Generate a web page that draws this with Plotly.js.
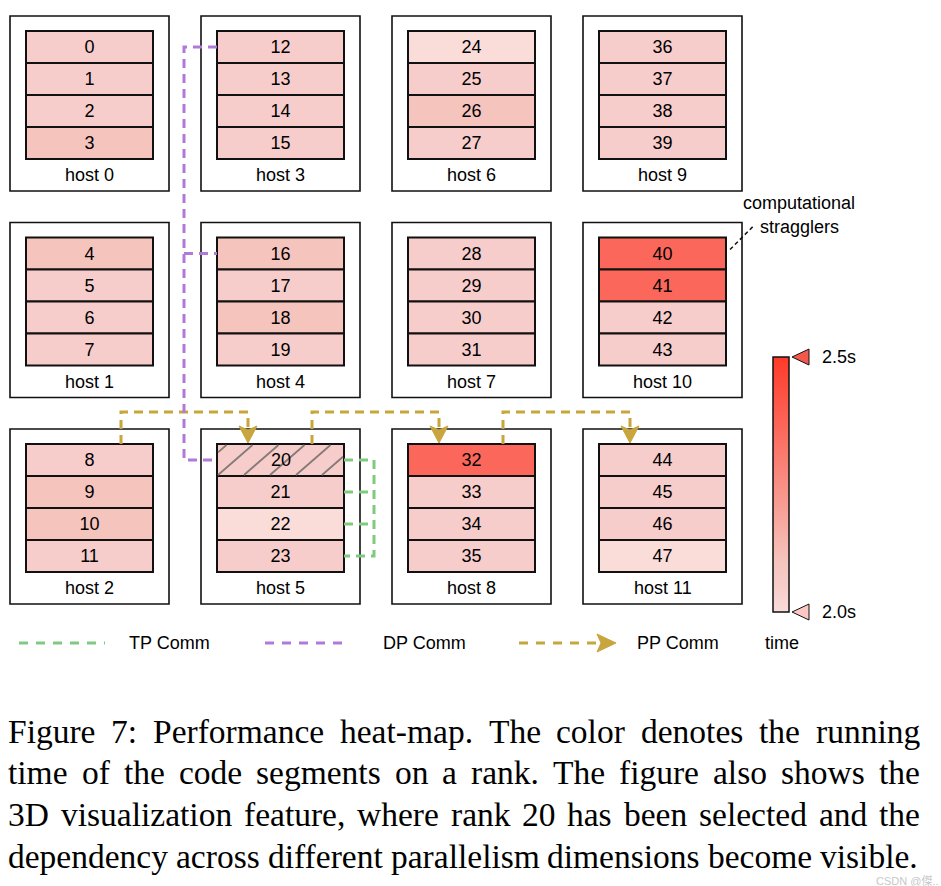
<!DOCTYPE html>
<html>
<head>
<meta charset="utf-8">
<script src="https://cdn.plot.ly/plotly-3.0.1.min.js"></script>
<style>html,body{margin:0;padding:0;background:#fff;}#chart{width:941px;height:886px;}</style>
</head>
<body>
<div id="chart"></div>
<script>
// ---------------- data ----------------
const ranks = [0,1,2,3,4,5,6,7,8,9,10,11,12,13,14,15,16,17,18,19,20,21,22,23,
               24,25,26,27,28,29,30,31,32,33,34,35,36,37,38,39,40,41,42,43,44,45,46,47];
const times = [2.05,2.05,2.05,2.10, 2.10,2.05,2.05,2.05, 2.05,2.10,2.10,2.05,
               2.05,2.05,2.05,2.05, 2.10,2.05,2.10,2.05, 2.05,2.05,2.00,2.05,
               2.00,2.05,2.10,2.05, 2.05,2.05,2.05,2.05, 2.36,2.05,2.05,2.05,
               2.05,2.05,2.05,2.05, 2.36,2.36,2.05,2.05, 2.05,2.05,2.05,2.00];
const hostLabels = ['host 0','host 1','host 2','host 3','host 4','host 5',
                    'host 6','host 7','host 8','host 9','host 10','host 11'];
const selectedRank = 20;
const tpGroup = [20,21,22,23];
const dpGroup = [12,16,20];
const ppChain = [8,20,32,44];
const stragglerText = ['computational','stragglers'];
const timeRange = [2.0, 2.5];
const timeTickLabels = ['2.0s','2.5s'];
const legendLabels = ['TP Comm','DP Comm','PP Comm','time'];
const captionLines = [
  'Figure 7: Performance heat-map. The color denotes the running',
  'time of the code segments on a rank. The figure also shows the',
  '3D visualization feature, where rank 20 has been selected and the',
  'dependency across different parallelism dimensions become visible.'
];
const watermark = 'CSDN @傑..';

// ---------------- layout geometry ----------------
const W = 941, H = 886;
const COL_X0 = 10, COL_STEP = 191, ROW_Y0 = 16, ROW_STEP = 206.5;
const BOX_W = 159, BOX_H = 175;
const CELL_DX = 16, CELL_DY = 15, CELL_W = 127, CELL_H = 32;
const RANKS_PER_HOST = 4, HOSTS_PER_COL = 3;
const FONT = 'Liberation Sans, Arial, sans-serif';
const SERIF = 'Liberation Serif';
const CAP_SIZE = 33.5;
const GREEN = '#80c97e', PURPLE = '#b27ad8', GOLD = '#c9a53e';

function hostOf(r){ return Math.floor(r / RANKS_PER_HOST); }
function boxLeft(h){ return COL_X0 + Math.floor(h / HOSTS_PER_COL) * COL_STEP; }
function boxTop(h){ return ROW_Y0 + (h % HOSTS_PER_COL) * ROW_STEP; }
function cellLeft(r){ return boxLeft(hostOf(r)) + CELL_DX; }
function cellTop(r){ return boxTop(hostOf(r)) + CELL_DY + (r % RANKS_PER_HOST) * CELL_H; }
function cellMidY(r){ return cellTop(r) + CELL_H / 2; }
function cellRight(r){ return cellLeft(r) + CELL_W; }

const colorscale = [[0,'#fadcd9'],[0.1,'#f6cdcb'],[0.2,'#f5c4bd'],[0.72,'#fb685b'],[1,'#ff3b2a']];

const traces = [];
const shapes = [];
const annotations = [];

// host boxes + labels
hostLabels.forEach((lab, h) => {
  shapes.push({type:'rect', xref:'x', yref:'y', layer:'below',
    x0: boxLeft(h), x1: boxLeft(h) + BOX_W, y0: boxTop(h), y1: boxTop(h) + BOX_H,
    line:{color:'#111', width:1.6}, fillcolor:'#fff'});
  annotations.push({xref:'x', yref:'y', x: boxLeft(h) + BOX_W/2, y: boxTop(h) + 159,
    text: lab, showarrow:false, font:{family:FONT, size:18, color:'#000'},
    xanchor:'center', yanchor:'middle'});
});

function dashed(xs, ys, color, dash, width){
  return {type:'scatter', mode:'lines', x: xs, y: ys, hoverinfo:'skip', showlegend:false,
    line:{color: color, width: width || 3, dash: dash || '9px,6px'}};
}
function arrowHead(xTip, yTip, dir, color, len, half){
  const notch = 4;
  let xs, ys;
  if (dir === 'down') {
    xs = [xTip - half, xTip, xTip + half, xTip, xTip - half];
    ys = [yTip - len, yTip - len + notch, yTip - len, yTip, yTip - len];
  } else {
    xs = [xTip - len, xTip - len + notch, xTip - len, xTip, xTip - len];
    ys = [yTip - half, yTip, yTip + half, yTip, yTip - half];
  }
  return {type:'scatter', mode:'lines', x: xs, y: ys, fill:'toself', fillcolor: color,
    line:{color: color, width:1}, hoverinfo:'skip', showlegend:false};
}

// heat-map cells
traces.push({
  type:'bar', orientation:'h',
  y: ranks.map(cellMidY),
  base: ranks.map(cellLeft),
  x: ranks.map(() => CELL_W),
  width: ranks.map(() => CELL_H),
  text: ranks.map(r => r === selectedRank ? '' : String(r)),
  textposition:'inside', insidetextanchor:'middle', textangle:0, constraintext:'none',
  textfont:{family:FONT, size:18, color:'#000'},
  hoverinfo:'skip', showlegend:false,
  marker:{
    color: times, colorscale: colorscale, cmin: timeRange[0], cmax: timeRange[1],
    line:{color:'#111', width:2},
    showscale:true,
    colorbar:{x: 773/W, xanchor:'left', xpad:0, ypad:0, y: 1 - 484.5/H, yanchor:'middle',
      thickness:16, thicknessmode:'pixels', len:255, lenmode:'pixels',
      outlinecolor:'#111', outlinewidth:1.5, borderwidth:0,
      showticklabels:false, ticks:''}
  }
});

// hatching of the selected rank (clipped to its cell), label on top
{
  const r = selectedRank;
  const L = cellLeft(r) + 1, R = cellRight(r) - 1, T = cellTop(r) + 1, B = cellTop(r) + CELL_H - 1;
  const k = 1.15, STEP = 26;
  const hx = [], hy = [];
  for (let c = L - STEP; c < R; c += STEP) {
    const xs = Math.max(c, L), xe = Math.min(c + (B - T) * k, R);
    if (xe <= xs) continue;
    hx.push(xs, xe, null);
    hy.push(B - (xs - c) / k, B - (xe - c) / k, null);
  }
  traces.push({type:'scatter', mode:'lines', x: hx, y: hy, line:{color:'#857a78', width:1.8},
    hoverinfo:'skip', showlegend:false});
  annotations.push({xref:'x', yref:'y', x: cellLeft(r) + CELL_W/2, y: cellMidY(r), text: String(r),
    showarrow:false, font:{family:FONT, size:18, color:'#000'}});
}

// PP comm
const PP_RISE = 17, PP_SRC_OFF = 95, PP_DST_OFF = 31, AR_LEN = 17, AR_HALF = 9;
for (let i = 0; i < ppChain.length - 1; i++) {
  const s = ppChain[i], d = ppChain[i+1];
  const yTop = boxTop(hostOf(s)) - PP_RISE;
  const xs = cellLeft(s) + PP_SRC_OFF, xd = cellLeft(d) + PP_DST_OFF;
  traces.push(dashed([xs, xs, xd, xd], [cellTop(s), yTop, yTop, cellTop(d) - AR_LEN + 2], GOLD));
  traces.push(arrowHead(xd, cellTop(d) - 1, 'down', GOLD, AR_LEN, AR_HALF));
}

// DP comm
const DP_X = boxLeft(hostOf(dpGroup[0])) - 17;
{
  const first = dpGroup[0], last = dpGroup[dpGroup.length-1];
  traces.push(dashed([cellLeft(first), DP_X, DP_X, cellLeft(last)],
                     [cellMidY(first), cellMidY(first), cellMidY(last), cellMidY(last)], PURPLE));
  dpGroup.slice(1, -1).forEach(r => {
    traces.push(dashed([DP_X, cellLeft(r)], [cellMidY(r), cellMidY(r)], PURPLE));
  });
}

// TP comm
const TP_X = cellRight(tpGroup[0]) + 30;
{
  const first = tpGroup[0], last = tpGroup[tpGroup.length-1];
  traces.push(dashed([cellRight(first), TP_X, TP_X, cellRight(last)],
                     [cellMidY(first), cellMidY(first), cellMidY(last), cellMidY(last)], GREEN));
  tpGroup.slice(1, -1).forEach(r => {
    traces.push(dashed([cellRight(r), TP_X], [cellMidY(r), cellMidY(r)], GREEN));
  });
}

// straggler annotation
{
  const r = 40;
  traces.push({type:'scatter', mode:'lines', x:[cellRight(r) + 4, cellRight(r) + 28],
    y:[cellTop(r) + 12, cellTop(r) - 12], line:{color:'#111', width:1.5, dash:'4px,3px'},
    hoverinfo:'skip', showlegend:false});
  annotations.push({xref:'x', yref:'y', x: 799, y: 203, text: stragglerText[0], showarrow:false,
    font:{family:FONT, size:18, color:'#000'}, xanchor:'center', yanchor:'middle'});
  annotations.push({xref:'x', yref:'y', x: 799, y: 227, text: stragglerText[1], showarrow:false,
    font:{family:FONT, size:18, color:'#000'}, xanchor:'center', yanchor:'middle'});
}

// colorbar end markers and labels
const CB_TOP = 357, CB_BOT = 612;
[[CB_BOT, '#fdc8c4', timeTickLabels[0]], [CB_TOP, '#f4584c', timeTickLabels[1]]].forEach(([yy, col, lab]) => {
  traces.push({type:'scatter', mode:'lines', x:[792, 809, 809, 792], y:[yy, yy - 8, yy + 8, yy],
    fill:'toself', fillcolor: col, line:{color:'#111', width:1}, hoverinfo:'skip', showlegend:false});
  annotations.push({xref:'x', yref:'y', x: 820, y: yy, text: lab, showarrow:false,
    font:{family:FONT, size:18, color:'#000'}, xanchor:'left', yanchor:'middle'});
});

// legend
const LEG_Y = 643;
traces.push(dashed([19, 105], [LEG_Y, LEG_Y], GREEN, '9px,8px'));
traces.push(dashed([265, 350], [LEG_Y, LEG_Y], PURPLE, '9px,8px'));
traces.push(dashed([519, 598], [LEG_Y, LEG_Y], GOLD, '9px,8px'));
traces.push(arrowHead(616, LEG_Y, 'right', GOLD, 19, 9));
[[127, legendLabels[0]], [381, legendLabels[1]], [635, legendLabels[2]], [763, legendLabels[3]]].forEach(([xx, lab]) => {
  annotations.push({xref:'x', yref:'y', x: xx, y: LEG_Y, text: lab, showarrow:false,
    font:{family:FONT, size:18, color:'#000'}, xanchor:'left', yanchor:'middle'});
});

// caption, justified word by word between the margins
{
  const ctx = document.createElement('canvas').getContext('2d');
  ctx.font = CAP_SIZE + 'px "' + SERIF + '"';
  const LEFT = 8, RIGHTS = [920, 920, 920, 918];
  captionLines.forEach((ln, i) => {
    const words = ln.split(' ');
    const widths = words.map(w => ctx.measureText(w).width);
    const total = widths.reduce((a, b) => a + b, 0);
    const gap = (RIGHTS[i] - LEFT - total) / (words.length - 1);
    let x = LEFT;
    words.forEach((w, k) => {
      annotations.push({xref:'x', yref:'y', x: x, y: 731 + i * 41.7, text: w, showarrow:false,
        font:{family: SERIF + ', Times New Roman, serif', size: CAP_SIZE, color:'#000'},
        xanchor:'left', yanchor:'middle', borderpad:0, borderwidth:0});
      x += widths[k] + gap;
    });
  });
}
annotations.push({xref:'x', yref:'y', x: 940, y: 881, text: watermark, showarrow:false,
  font:{family:'Liberation Sans, Noto Sans CJK SC, sans-serif', size:11, color:'#c8c8c8'},
  xanchor:'right', yanchor:'middle', borderpad:0});

const layout = {
  width: W, height: H, margin:{l:0, r:0, t:0, b:0, pad:0},
  paper_bgcolor:'#fff', plot_bgcolor:'#fff', showlegend:false,
  barmode:'overlay',
  xaxis:{range:[0, W], visible:false, fixedrange:true},
  yaxis:{range:[H, 0], visible:false, fixedrange:true},
  shapes: shapes, annotations: annotations
};
Plotly.newPlot('chart', traces, layout, {staticPlot:true, displayModeBar:false});
</script>
</body>
</html>
